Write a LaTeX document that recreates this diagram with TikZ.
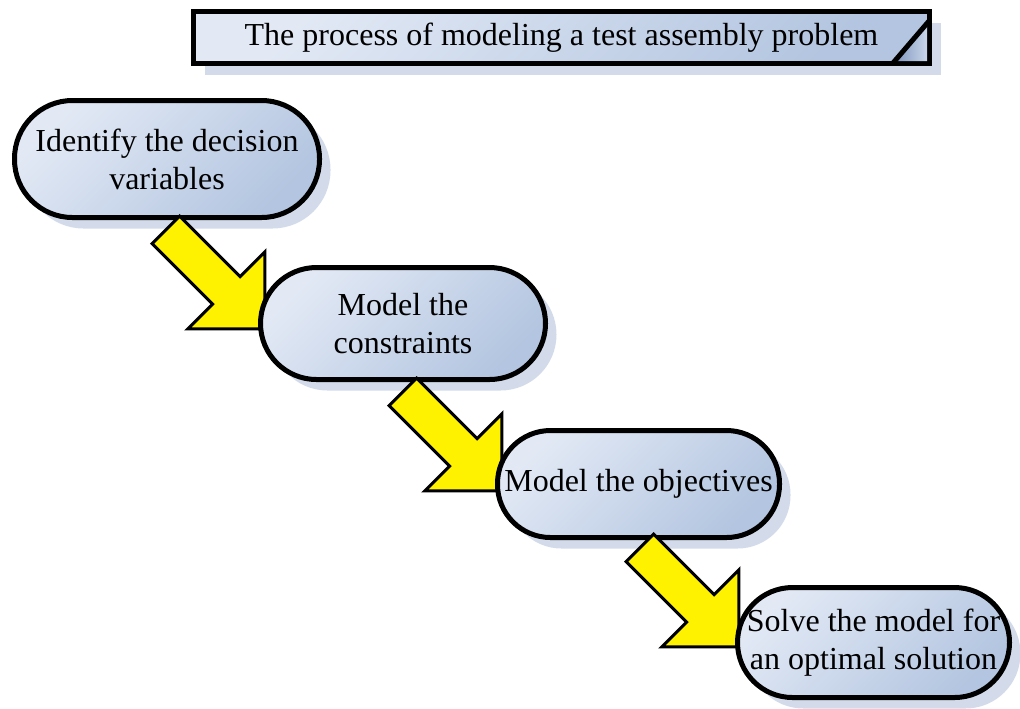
\documentclass[tikz,border=0pt]{standalone}
\usepackage{fontspec}
\setmainfont{Liberation Serif}
\definecolor{s_light}{HTML}{E2E9F5}
\definecolor{s_dark}{HTML}{B3C5E0}
\definecolor{s_shadow}{HTML}{D3DBEB}
\definecolor{s_fold}{HTML}{7E96BF}
\usepackage{tikz}
\usetikzlibrary{shapes.arrows,shadows}

\begin{document}
\begin{tikzpicture}[
    x=0.5pt, y=-0.5pt,
    every node/.style={font=\fontsize{16}{19}\selectfont},
    boxed/.style={draw=black,line width=2.5pt,top color=s_light,bottom color=s_dark,shading angle=45,
        drop shadow={shadow xshift=5.5pt,shadow yshift=-5.5pt,fill=s_shadow,opacity=1}},
    heading/.style={boxed,rectangle,minimum width=368pt,minimum height=26pt,inner sep=0pt},
    stage/.style={boxed,rectangle,inner sep=0pt,align=center},
    flow/.style={single arrow,draw=black,line width=1.5pt,fill=yellow,inner sep=9pt,
        single arrow head extend=17.5pt,single arrow tip angle=90,minimum height=70pt,rotate=-45}
]
    \useasboundingbox (0,0) rectangle (1020,708);

    \node[heading] (title) at (561.5,37.5) {The process of modeling a test assembly problem};
    % folded corner
    \fill[left color=s_fold,right color=s_dark!70] (927,24) -- (895,61) -- (927,61) -- cycle;
    \draw[line width=2.5pt,line cap=round] (929,21) -- (893,63);

    \node[stage,minimum width=152.5pt,minimum height=58.5pt,rounded corners=29pt] (stage1) at (167,159) {Identify the decision\\variables};
    \node[flow] (arr1) at (208.5,272.5) {};
    \node[stage,minimum width=142.5pt,minimum height=56pt,rounded corners=28pt] (stage2) at (403,323.5) {Model the\\constraints};
    \node[flow] (arr2) at (445.5,434.5) {};
    \node[stage,minimum width=141pt,minimum height=53.5pt,rounded corners=26.5pt] (stage3) at (638.5,484) {Model the objectives};
    \node[flow] (arr3) at (682.5,590.5) {};
    \node[stage,minimum width=136pt,minimum height=55pt,rounded corners=27.5pt] (stage4) at (873.5,642.5) {Solve the model for\\an optimal solution};
\end{tikzpicture}
\end{document}
